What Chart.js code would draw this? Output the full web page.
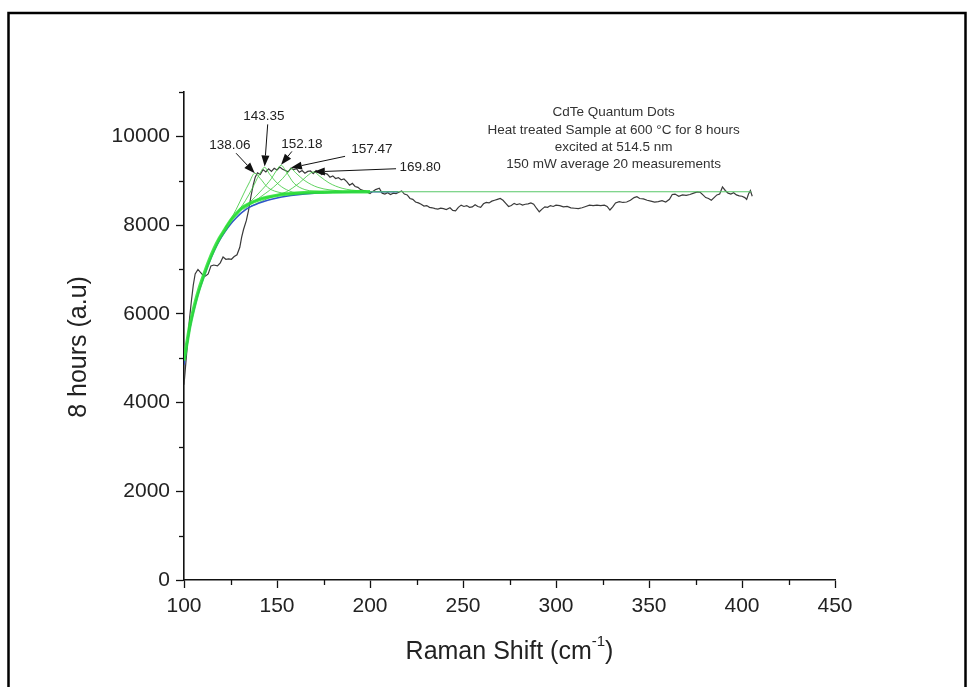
<!DOCTYPE html>
<html>
<head>
<meta charset="utf-8">
<title>CdTe Quantum Dots – Raman spectrum</title>
<script src="https://cdn.jsdelivr.net/npm/chart.js@4.4.1/dist/chart.umd.min.js"></script>
<style>
  html, body { margin: 0; padding: 0; background: #fff; }
  #wrap { position: relative; width: 976px; height: 687px; }
</style>
</head>
<body>
<div id="wrap"><canvas id="chart" width="976" height="687"></canvas></div>
<script>
// Measured Raman spectrum (averaged)
const shiftX = [100,101,102,103,104,105,106,107.5,108.5,110,111.5,113,114.5,116,118,119.5,121,122.5,124,125.5,127,128.5,130,131,132,133.5,134.7,136,137.2,138.3,139.5,141,142.5,144,145.5,147,148.5,150,151.5,153,154.5,156,157.5,159,160.5,162,163.5,165,166.5,168,169.5,171,172.5,174,175.5,177,178.5,180,181.5,183,184.5,186,187.5,189,190.5,192,193.5,195,196.5,198,200,201.5,203,205,206.5,208,209.5,211,212.5,214,215.5,217,218.5,220,221.5,223,224.5,226,227.5,229,230.5,232,233.5,235,236.5,238,239.5,241,243,244.5,246,247.5,249,250.5,252,253.5,255,256.5,258,259.5,261,262.5,264,265.5,267,268.5,270,271.5,273,274.5,276,277.5,279,280.5,282,283.5,285,286.5,288,289.5,291,292.5,294,295.5,297,298.5,300,302,304,306,308,310,312,314,316,318,320,322,324,326,327.5,329,330.5,332,334,336,338,340,342,343.5,345,347,349,351,353,355,357,359,361,362.5,364,366,368,370,372,374,376,377.5,379,380.5,382,383.5,385,386.5,388,389.5,391,392.5,394,395.5,397,398.5,400,401.5,402.5,403.5,404.5,405.5];
const intensity = [4400,4900,5400,5900,6300,6650,6900,7000,6950,6880,6850,6900,7080,7100,7080,7150,7280,7230,7240,7230,7290,7330,7500,7730,7900,8100,8330,8650,8900,9080,9180,9140,9250,9200,9270,9210,9280,9240,9310,9260,9230,9200,9280,9250,9270,9190,9230,9170,9210,9220,9160,9230,9190,9140,9170,9150,9080,9110,9050,9070,9020,9040,8980,8900,8940,8870,8850,8800,8780,8760,8710,8760,8800,8830,8720,8700,8730,8690,8720,8710,8740,8770,8700,8680,8600,8580,8520,8500,8470,8430,8440,8400,8390,8370,8360,8380,8370,8350,8390,8330,8320,8400,8450,8420,8440,8400,8410,8460,8420,8400,8480,8510,8500,8540,8560,8580,8600,8560,8490,8420,8440,8490,8460,8480,8450,8470,8480,8500,8470,8380,8300,8360,8410,8400,8440,8420,8450,8440,8410,8420,8390,8380,8370,8390,8420,8450,8440,8450,8440,8450,8420,8340,8410,8500,8530,8510,8520,8560,8620,8640,8600,8590,8560,8540,8520,8530,8550,8520,8580,8690,8700,8650,8680,8670,8690,8720,8750,8740,8680,8620,8600,8560,8620,8680,8700,8860,8780,8720,8700,8730,8680,8660,8650,8620,8580,8700,8780,8650];

// Cumulative peak fit
const fitX = [100,101,102,103,104,106,108,110,113,116,119,122,125,128,131,135,140,145,150,155,160,170,180,190,200,405];
const fitY = [4950,5200,5450,5700,5900,6250,6550,6800,7150,7450,7700,7900,8100,8250,8380,8480,8570,8630,8670,8700,8720,8740,8748,8750,8750,8750];

// Baseline
const baseX = [100,102,104,106,108,110,113,116,119,122,125,128,131,135,140,145,150,155,160,170,180,190,200,215];
const baseY = [4850,5400,5850,6200,6500,6750,7100,7400,7650,7850,8020,8160,8280,8400,8490,8560,8610,8650,8680,8720,8740,8748,8750,8750];

// Fitted peak positions (cm^-1)
const peakCenters = [138.06, 143.35, 152.18, 157.47, 169.80];

// Individual fitted peak components
const compX = [
  [118,124,128,132,135,138.06,141,145,150,160,175,190],
  [122,128,133,137,140,143.35,146,150,155,162,175],
  [128,135,142,147,150,152.18,155,159,165,175],
  [132,140,148,153,156,157.47,160,165,172,185],
  [135,145,155,162,166,169.80,173,178,185,195,210]
];
const compY = [
  [7650,8050,8350,8700,8950,9170,9050,8850,8750,8700,8740,8750],
  [7950,8250,8550,8850,9100,9300,9150,8950,8800,8720,8745],
  [8250,8500,8800,9050,9250,9350,9200,8950,8800,8750],
  [8350,8600,8850,9050,9200,9280,9180,9000,8850,8760],
  [8400,8600,8750,8950,9100,9200,9100,8950,8830,8770,8750]
];

// Peak label anchors and arrow tails / tips (data units)
const labelX = [124.7, 143.0, 163.4, 201.0, 226.9];
const labelY = [9800, 10450, 9820, 9700, 9300];
const tailX  = [128.0, 145.0, 158.0, 186.6, 214.0];
const tailY  = [9620, 10270, 9660, 9550, 9270];
const tipY   = [9170, 9320, 9360, 9290, 9200];

// Axis ticks
const xMajorTicks = [100,150,200,250,300,350,400,450];
const xMinorTicks = [125,175,225,275,325,375,425];
const yMajorTicks = [0,2000,4000,6000,8000,10000];
const yMinorTicks = [1000,3000,5000,7000,9000,11000];

// Sample description
const infoLines = [
  'CdTe Quantum Dots',
  'Heat treated Sample at 600 \u00B0C for 8 hours',
  'excited at 514.5 nm',
  '150 mW average 20 measurements'
];
const infoX = 331;
const infoY = 10540;

const pts = (xs, ys) => xs.map((x, i) => ({ x: x, y: ys[i] }));
const FONT = "'Liberation Sans', Arial, sans-serif";

const datasets = [];
datasets.push({
  label: 'spectrum', data: pts(shiftX, intensity),
  borderColor: '#3a3a3a', borderWidth: 1.2, pointRadius: 0, tension: 0, order: 3
});
compX.forEach((xs, i) => datasets.push({
  label: 'peak ' + peakCenters[i].toFixed(2), data: pts(xs, compY[i]),
  borderColor: 'rgba(60,200,60,0.9)', borderWidth: 0.9, pointRadius: 0,
  cubicInterpolationMode: 'monotone', order: 2
}));
datasets.push({
  label: 'baseline', data: pts(baseX, baseY),
  borderColor: '#2f56c8', borderWidth: 1.6, pointRadius: 0,
  cubicInterpolationMode: 'monotone', order: 1
});
const bandN = fitX.filter(x => x <= 200).length;
datasets.push({
  label: 'fit band', data: pts(fitX.slice(0, bandN), fitY.slice(0, bandN)),
  borderColor: 'rgba(40,225,50,0.85)', borderWidth: 3.5, pointRadius: 0,
  cubicInterpolationMode: 'monotone', order: 0
});
datasets.push({
  label: 'fit', data: pts(fitX, fitY),
  borderColor: '#58c868', borderWidth: 1.1, pointRadius: 0,
  cubicInterpolationMode: 'monotone', order: 0
});

const decor = {
  id: 'decor',
  beforeDraw(chart) {
    const c = chart.ctx;
    c.save();
    c.fillStyle = '#fff';
    c.fillRect(0, 0, chart.width, chart.height);
    c.strokeStyle = '#000';
    c.lineWidth = 2.5;
    c.strokeRect(8.5, 13, 957, 690);
    c.restore();
  },
  afterDraw(chart) {
    const c = chart.ctx, xs = chart.scales.x, ys = chart.scales.y, a = chart.chartArea;
    c.save();
    // minor ticks
    c.strokeStyle = '#111';
    c.lineWidth = 1.3;
    xMinorTicks.forEach(v => {
      const px = Math.round(xs.getPixelForValue(v)) + 0.5;
      c.beginPath(); c.moveTo(px, a.bottom); c.lineTo(px, a.bottom + 5); c.stroke();
    });
    yMinorTicks.forEach(v => {
      const py = Math.round(ys.getPixelForValue(v)) + 0.5;
      c.beginPath(); c.moveTo(a.left, py); c.lineTo(a.left - 5, py); c.stroke();
    });

    // peak labels and arrows
    c.fillStyle = '#222';
    c.font = '13.5px ' + FONT;
    c.textAlign = 'center';
    c.textBaseline = 'middle';
    peakCenters.forEach((p, i) => {
      c.fillText(p.toFixed(2), xs.getPixelForValue(labelX[i]), ys.getPixelForValue(labelY[i]));
      const x0 = xs.getPixelForValue(tailX[i]), y0 = ys.getPixelForValue(tailY[i]);
      const x1 = xs.getPixelForValue(p), y1 = ys.getPixelForValue(tipY[i]);
      const ang = Math.atan2(y1 - y0, x1 - x0);
      const L = 11, W = 4;
      c.strokeStyle = '#111'; c.lineWidth = 1;
      c.beginPath(); c.moveTo(x0, y0);
      c.lineTo(x1 - L * Math.cos(ang), y1 - L * Math.sin(ang)); c.stroke();
      c.fillStyle = '#111';
      c.beginPath();
      c.moveTo(x1, y1);
      c.lineTo(x1 - L * Math.cos(ang) + W * Math.sin(ang), y1 - L * Math.sin(ang) - W * Math.cos(ang));
      c.lineTo(x1 - L * Math.cos(ang) - W * Math.sin(ang), y1 - L * Math.sin(ang) + W * Math.cos(ang));
      c.closePath(); c.fill();
      c.fillStyle = '#222';
    });

    // sample description
    c.fillStyle = '#333';
    c.font = '13.5px ' + FONT;
    const cx = xs.getPixelForValue(infoX), cy = ys.getPixelForValue(infoY);
    infoLines.forEach((t, i) => c.fillText(t, cx, cy + i * 17.4));

    // axis titles
    c.fillStyle = '#222';
    c.font = '25px ' + FONT;
    c.save();
    c.translate(79, (a.top + a.bottom) / 2 + 11);
    c.rotate(-Math.PI / 2);
    c.textAlign = 'center';
    c.textBaseline = 'middle';
    c.fillText('8 hours (a.u)', 0, 0);
    c.restore();

    const main = 'Raman Shift (cm', sup = '-1', close = ')';
    c.font = '25px ' + FONT;
    const wMain = c.measureText(main).width, wClose = c.measureText(close).width;
    c.font = '15px ' + FONT;
    const wSup = c.measureText(sup).width;
    const total = wMain + wSup + wClose;
    let tx = (a.left + a.right) / 2 - total / 2;
    const ty = 652;
    c.textAlign = 'left';
    c.textBaseline = 'middle';
    c.font = '25px ' + FONT;
    c.fillText(main, tx, ty);
    c.font = '15px ' + FONT;
    c.fillText(sup, tx + wMain, ty - 10);
    c.font = '25px ' + FONT;
    c.fillText(close, tx + wMain + wSup, ty);
    c.restore();
  }
};

new Chart(document.getElementById('chart'), {
  type: 'line',
  data: { datasets },
  options: {
    responsive: false,
    animation: false,
    events: [],
    layout: { padding: { left: 0, top: 92, right: 141, bottom: 0 } },
    plugins: { legend: { display: false }, tooltip: { enabled: false } },
    scales: {
      x: {
        type: 'linear', min: 100, max: 450,
        afterFit: s => { s.height = 107; },
        afterBuildTicks: s => { s.ticks = xMajorTicks.map(v => ({ value: v })); },
        border: { display: true, color: '#111', width: 1.6 },
        grid: { drawOnChartArea: false, tickLength: 8, tickColor: '#111', tickWidth: 1.3 },
        ticks: { color: '#222', padding: 6, font: { family: FONT, size: 21 }, maxRotation: 0,
                 callback: v => String(v) }
      },
      y: {
        type: 'linear', min: 0, max: 11000,
        afterFit: s => { s.width = 184; },
        afterBuildTicks: s => { s.ticks = yMajorTicks.map(v => ({ value: v })); },
        border: { display: true, color: '#111', width: 1.6 },
        grid: { drawOnChartArea: false, tickLength: 8, tickColor: '#111', tickWidth: 1.3 },
        ticks: { color: '#222', padding: 6, font: { family: FONT, size: 21 },
                 callback: v => String(v) }
      }
    }
  },
  plugins: [decor]
});
</script>
</body>
</html>
